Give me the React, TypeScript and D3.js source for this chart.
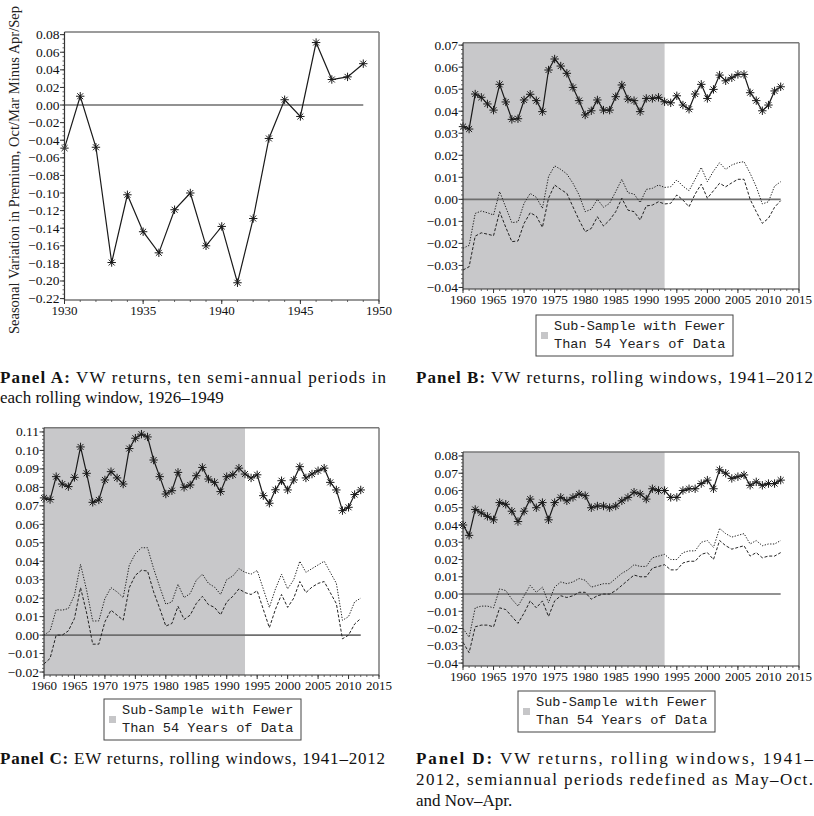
import React from "react";
import * as d3 from "d3";

const FONT = "'Liberation Serif', 'Times New Roman', serif";
const MONO = "'Liberation Mono', 'Courier New', monospace";

// ---------- Data ----------
const yearsA = [1930, 1931, 1932, 1933, 1934, 1935, 1936, 1937, 1938, 1939, 1940, 1941, 1942, 1943, 1944, 1945, 1946, 1947, 1948, 1949];
const premiumA = [-0.049, 0.010, -0.048, -0.179, -0.102, -0.144, -0.168, -0.119, -0.100, -0.160, -0.138, -0.202, -0.129, -0.038, 0.006, -0.013, 0.071, 0.029, 0.032, 0.047];

const yearsRolling = [
  1960, 1961, 1962, 1963, 1964, 1965, 1966, 1967, 1968, 1969,
  1970, 1971, 1972, 1973, 1974, 1975, 1976, 1977, 1978, 1979,
  1980, 1981, 1982, 1983, 1984, 1985, 1986, 1987, 1988, 1989,
  1990, 1991, 1992, 1993, 1994, 1995, 1996, 1997, 1998, 1999,
  2000, 2001, 2002, 2003, 2004, 2005, 2006, 2007, 2008, 2009,
  2010, 2011, 2012,
];

const vwEstimateB = [
  0.0330, 0.0319, 0.0478, 0.0463, 0.0433, 0.0405, 0.0522, 0.0442, 0.0363, 0.0366,
  0.0451, 0.0477, 0.0448, 0.0398, 0.0587, 0.0637, 0.0605, 0.0572, 0.0508, 0.0448,
  0.0383, 0.0402, 0.0451, 0.0405, 0.0405, 0.0466, 0.0519, 0.0455, 0.0448, 0.0398,
  0.0458, 0.0458, 0.0463, 0.0443, 0.0438, 0.0470, 0.0428, 0.0409, 0.0478, 0.0522,
  0.0458, 0.0499, 0.0564, 0.0538, 0.0552, 0.0567, 0.0567, 0.0484, 0.0448, 0.0402,
  0.0428, 0.0492, 0.0511,
];
const vwUpperB = [
  -0.0222, -0.0209, -0.0064, -0.0053, -0.0061, -0.0071, 0.0035, -0.0036, -0.0106, -0.0102,
  -0.0018, 0.0027, 0.0009, -0.0041, 0.0103, 0.0152, 0.0136, 0.0115, 0.0073, 0.0020,
  -0.0056, -0.0045, 0.0000, -0.0036, -0.0018, 0.0035, 0.0091, 0.0030, 0.0024, -0.0015,
  0.0045, 0.0050, 0.0065, 0.0054, 0.0057, 0.0088, 0.0060, 0.0039, 0.0091, 0.0145,
  0.0080, 0.0128, 0.0166, 0.0136, 0.0156, 0.0166, 0.0171, 0.0118, 0.0057, -0.0021,
  -0.0011, 0.0060, 0.0080,
];
const vwLowerB = [
  -0.0321, -0.0306, -0.0167, -0.0152, -0.0158, -0.0165, -0.0056, -0.0127, -0.0192, -0.0189,
  -0.0109, -0.0061, -0.0076, -0.0127, 0.0005, 0.0065, 0.0045, 0.0027, -0.0034, -0.0094,
  -0.0147, -0.0132, -0.0079, -0.0121, -0.0094, -0.0056, 0.0005, -0.0049, -0.0056, -0.0094,
  -0.0030, -0.0026, -0.0011, -0.0021, -0.0018, 0.0020, -0.0003, -0.0034, 0.0024, 0.0069,
  0.0005, 0.0039, 0.0073, 0.0057, 0.0075, 0.0091, 0.0091, 0.0000, -0.0056, -0.0109,
  -0.0086, -0.0036, -0.0006,
];

const ewEstimateC = [
  0.0743, 0.0734, 0.0858, 0.0818, 0.0804, 0.0854, 0.1019, 0.0876, 0.0719, 0.0732,
  0.0840, 0.0885, 0.0851, 0.0818, 0.1010, 0.1066, 0.1088, 0.1073, 0.0948, 0.0858,
  0.0764, 0.0782, 0.0881, 0.0800, 0.0813, 0.0863, 0.0908, 0.0845, 0.0827, 0.0777,
  0.0858, 0.0868, 0.0904, 0.0872, 0.0851, 0.0868, 0.0755, 0.0714, 0.0787, 0.0836,
  0.0786, 0.0840, 0.0912, 0.0851, 0.0872, 0.0890, 0.0904, 0.0827, 0.0786, 0.0674,
  0.0692, 0.0761, 0.0786,
];
const ewUpperC = [
  0.0000, 0.0023, 0.0138, 0.0135, 0.0144, 0.0216, 0.0383, 0.0243, 0.0076, 0.0077,
  0.0198, 0.0257, 0.0234, 0.0203, 0.0378, 0.0441, 0.0473, 0.0473, 0.0360, 0.0261,
  0.0167, 0.0180, 0.0275, 0.0203, 0.0225, 0.0297, 0.0330, 0.0280, 0.0260, 0.0220,
  0.0300, 0.0320, 0.0360, 0.0340, 0.0330, 0.0350, 0.0250, 0.0150, 0.0250, 0.0330,
  0.0250, 0.0300, 0.0400, 0.0340, 0.0360, 0.0380, 0.0400, 0.0340, 0.0280, 0.0080,
  0.0100, 0.0180, 0.0200,
];
const ewLowerC = [
  -0.0156, -0.0126, 0.0000, 0.0000, 0.0023, 0.0090, 0.0257, 0.0120, -0.0049, -0.0049,
  0.0072, 0.0135, 0.0108, 0.0081, 0.0257, 0.0324, 0.0351, 0.0347, 0.0234, 0.0144,
  0.0049, 0.0063, 0.0156, 0.0085, 0.0108, 0.0171, 0.0210, 0.0165, 0.0150, 0.0110,
  0.0180, 0.0210, 0.0250, 0.0230, 0.0220, 0.0240, 0.0140, 0.0040, 0.0140, 0.0220,
  0.0150, 0.0200, 0.0290, 0.0230, 0.0260, 0.0280, 0.0290, 0.0230, 0.0170, -0.0020,
  0.0000, 0.0060, 0.0090,
];

const vwEstimateD = [
  0.040, 0.034, 0.049, 0.047, 0.045, 0.043, 0.053, 0.052, 0.048, 0.042,
  0.048, 0.055, 0.050, 0.053, 0.043, 0.053, 0.056, 0.054, 0.056, 0.058,
  0.057, 0.050, 0.051, 0.051, 0.050, 0.051, 0.054, 0.056, 0.059, 0.058,
  0.055, 0.061, 0.060, 0.060, 0.056, 0.056, 0.060, 0.061, 0.061, 0.064,
  0.066, 0.061, 0.072, 0.070, 0.067, 0.068, 0.069, 0.063, 0.065, 0.063,
  0.064, 0.064, 0.066,
];
const vwUpperD = [
  -0.020, -0.025, -0.008, -0.007, -0.007, -0.008, 0.003, 0.002, -0.003, -0.007,
  -0.001, 0.005, 0.001, 0.004, -0.005, 0.004, 0.007, 0.006, 0.007, 0.009,
  0.008, 0.004, 0.005, 0.006, 0.006, 0.009, 0.012, 0.014, 0.017, 0.016,
  0.016, 0.021, 0.022, 0.023, 0.020, 0.020, 0.024, 0.025, 0.025, 0.030,
  0.031, 0.027, 0.038, 0.035, 0.033, 0.034, 0.035, 0.029, 0.031, 0.028,
  0.029, 0.029, 0.031,
];
const vwLowerD = [
  -0.028, -0.034, -0.019, -0.018, -0.018, -0.019, -0.008, -0.009, -0.013, -0.017,
  -0.011, -0.004, -0.008, -0.004, -0.013, -0.004, -0.001, -0.002, -0.001, 0.001,
  0.001, -0.003, -0.001, 0.000, 0.000, 0.002, 0.005, 0.008, 0.011, 0.010,
  0.010, 0.015, 0.016, 0.017, 0.014, 0.014, 0.018, 0.019, 0.019, 0.023,
  0.024, 0.020, 0.031, 0.028, 0.026, 0.027, 0.028, 0.022, 0.024, 0.021,
  0.022, 0.022, 0.024,
];

const xTicksA = [1930, 1935, 1940, 1945, 1950];
const xTicksRolling = [1960, 1965, 1970, 1975, 1980, 1985, 1990, 1995, 2000, 2005, 2010, 2015];
const yTicksA = [0.08, 0.06, 0.04, 0.02, 0, -0.02, -0.04, -0.06, -0.08, -0.10, -0.12, -0.14, -0.16, -0.18, -0.20, -0.22];
const yTicksB = [0.07, 0.06, 0.05, 0.04, 0.03, 0.02, 0.01, 0, -0.01, -0.02, -0.03, -0.04];
const yTicksC = [0.11, 0.10, 0.09, 0.08, 0.07, 0.06, 0.05, 0.04, 0.03, 0.02, 0.01, 0, -0.01, -0.02];
const yTicksD = [0.08, 0.07, 0.06, 0.05, 0.04, 0.03, 0.02, 0.01, 0, -0.01, -0.02, -0.03, -0.04];

const shadeEndYear = 1993;
const legendLines = ["Sub-Sample with Fewer", "Than 54 Years of Data"];
const yTitleA = "Seasonal Variation in Premium, Oct/Mar Minus Apr/Sep";

// ---------- Helpers ----------
const fmt = d3.format(".2f");
const label = (v: number) => fmt(Math.abs(v) < 1e-9 ? 0 : v).replace("-", "\u2212");

function starPath(r: number) {
  const a = r * 0.7071;
  return `M0,${-r}V${r}M${-r},0H${r}M${-a},${-a}L${a},${a}M${-a},${a}L${a},${-a}`;
}
const STAR = starPath(4.2);

type Box = { l: number; r: number; t: number; b: number };

function Panel(props: {
  box: Box;
  xDomain: [number, number];
  yDomain: [number, number];
  xTicks: number[];
  yTicks: number[];
  yMinor: number;
  years: number[];
  est: number[];
  upper?: number[];
  lower?: number[];
  shadeEnd?: number;
  zeroEnd: number;
}) {
  const { box, xDomain, yDomain, xTicks, yTicks, yMinor, years, est, upper, lower, shadeEnd, zeroEnd } = props;
  const x = d3.scaleLinear().domain(xDomain).range([box.l, box.r]);
  const y = d3.scaleLinear().domain(yDomain).range([box.b, box.t]);
  const lineGen = d3
    .line<number>()
    .x((_, i) => x(years[i]))
    .y((d) => y(d));
  const yMinorTicks = d3
    .range(Math.ceil(yDomain[0] / yMinor - 1e-6), Math.floor(yDomain[1] / yMinor + 1e-6) + 1)
    .map((i) => i * yMinor);
  const xMinorTicks = d3.range(Math.ceil(xDomain[0]), Math.floor(xDomain[1]) + 1);
  const ink = "#1a1a1a";
  return (
    <g>
      {shadeEnd !== undefined && (
        <rect x={box.l} y={box.t} width={x(shadeEnd) - box.l} height={box.b - box.t} fill="#c8c8ca" />
      )}
      <line x1={box.l} x2={box.r} y1={box.t} y2={box.t} stroke="#7a7a7a" strokeWidth={1.5} />
      <line x1={box.r} x2={box.r} y1={box.t} y2={box.b} stroke="#7a7a7a" strokeWidth={1.5} />
      <line x1={box.l} x2={x(zeroEnd)} y1={y(0)} y2={y(0)} stroke="#6e6e6e" strokeWidth={1.6} />
      {upper && (
        <path d={lineGen(upper) || ""} fill="none" stroke="#222" strokeWidth={1} strokeDasharray="1.3,1.5" />
      )}
      {lower && (
        <path d={lineGen(lower) || ""} fill="none" stroke="#222" strokeWidth={1} strokeDasharray="3,1.8" />
      )}
      <path d={lineGen(est) || ""} fill="none" stroke={ink} strokeWidth={1.2} />
      {est.map((v, i) => (
        <path
          key={i}
          d={STAR}
          transform={`translate(${x(years[i])},${y(v)})`}
          stroke={ink}
          strokeWidth={1}
          fill="none"
        />
      ))}
      {/* left axis */}
      <line x1={box.l} x2={box.l} y1={box.t} y2={box.b} stroke="#333" strokeWidth={1.2} />
      {yMinorTicks.map((v, i) => (
        <line key={"ym" + i} x1={box.l - 2} x2={box.l} y1={y(v)} y2={y(v)} stroke="#444" strokeWidth={0.8} />
      ))}
      {yTicks.map((v, i) => (
        <g key={"yt" + i}>
          <line x1={box.l - 4.5} x2={box.l} y1={y(v)} y2={y(v)} stroke="#333" strokeWidth={1} />
          <text
            x={box.l - 5}
            y={y(v)}
            textAnchor="end"
            dominantBaseline="central"
            fontFamily={FONT}
            fontSize={13.5}
            fill="#111"
          >
            {label(v)}
          </text>
        </g>
      ))}
      {/* bottom axis */}
      <line x1={box.l} x2={box.r} y1={box.b} y2={box.b} stroke="#333" strokeWidth={1.2} />
      {xMinorTicks.map((v, i) => (
        <line key={"xm" + i} x1={x(v)} x2={x(v)} y1={box.b} y2={box.b + 2} stroke="#444" strokeWidth={0.8} />
      ))}
      {xTicks.map((v, i) => (
        <g key={"xt" + i}>
          <line x1={x(v)} x2={x(v)} y1={box.b} y2={box.b + 4} stroke="#333" strokeWidth={1} />
          <text x={x(v)} y={box.b + 15} textAnchor="middle" fontFamily={FONT} fontSize={13} fill="#111">
            {v}
          </text>
        </g>
      ))}
    </g>
  );
}

function Legend({ x, y }: { x: number; y: number }) {
  return (
    <g>
      <rect x={x} y={y} width={197} height={41} fill="#fff" stroke="#444" strokeWidth={1} />
      <rect x={x + 5} y={y + 17} width={7} height={7} fill="#c6c6c8" />
      {legendLines.map((t, i) => (
        <text key={i} x={x + 18} y={y + 15 + i * 17.5} fontFamily={MONO} fontSize={13.6} fill="#222">
          {t}
        </text>
      ))}
    </g>
  );
}

function Caption({
  x,
  y,
  bold,
  rest,
  width,
}: {
  x: number;
  y: number;
  bold?: string;
  rest: string;
  width?: number;
}) {
  return (
    <text
      x={x}
      y={y}
      fontFamily={FONT}
      fontSize={17}
      fill="#111"
      textLength={width}
      lengthAdjust={width ? "spacing" : undefined}
    >
      {bold && <tspan fontWeight="bold">{bold}</tspan>}
      {rest}
    </text>
  );
}

export default function App() {
  return (
    <svg
      width={814}
      height={816}
      viewBox="0 0 814 816"
      style={{ position: "absolute", left: 0, top: 0, background: "#fff" }}
    >
      <rect x={0} y={0} width={814} height={816} fill="#fff" />

      {/* Panel A */}
      <text
        transform="translate(14,170) rotate(-90)"
        textAnchor="middle"
        dominantBaseline="central"
        fontFamily={FONT}
        fontSize={14.5}
        fill="#222"
      >
        {yTitleA}
      </text>
      <Panel
        box={{ l: 64.5, r: 379, t: 32, b: 300 }}
        xDomain={[1930, 1950]}
        yDomain={[-0.2216, 0.083]}
        xTicks={xTicksA}
        yTicks={yTicksA}
        yMinor={0.005}
        years={yearsA}
        est={premiumA}
        zeroEnd={1949}
      />

      {/* Panel B */}
      <Panel
        box={{ l: 463, r: 799, t: 42.7, b: 289 }}
        xDomain={[1960, 2015]}
        yDomain={[-0.0407, 0.0711]}
        xTicks={xTicksRolling}
        yTicks={yTicksB}
        yMinor={0.002}
        years={yearsRolling}
        est={vwEstimateB}
        upper={vwUpperB}
        lower={vwLowerB}
        shadeEnd={shadeEndYear}
        zeroEnd={2012}
      />
      <Legend x={536} y={315} />

      {/* Panel C */}
      <Panel
        box={{ l: 44, r: 379, t: 427.7, b: 675 }}
        xDomain={[1960, 2015]}
        yDomain={[-0.0216, 0.1123]}
        xTicks={xTicksRolling}
        yTicks={yTicksC}
        yMinor={0.002}
        years={yearsRolling}
        est={ewEstimateC}
        upper={ewUpperC}
        lower={ewLowerC}
        shadeEnd={shadeEndYear}
        zeroEnd={2012}
      />
      <Legend x={104} y={699} />

      {/* Panel D */}
      <Panel
        box={{ l: 463, r: 799, t: 452, b: 666 }}
        xDomain={[1960, 2015]}
        yDomain={[-0.0417, 0.0823]}
        xTicks={xTicksRolling}
        yTicks={yTicksD}
        yMinor={0.002}
        years={yearsRolling}
        est={vwEstimateD}
        upper={vwUpperD}
        lower={vwLowerD}
        shadeEnd={shadeEndYear}
        zeroEnd={2012}
      />
      <Legend x={518} y={691} />

      {/* Captions */}
      <Caption x={0} y={383} bold="Panel A:" rest=" VW returns, ten semi-annual periods in" width={386} />
      <Caption x={0} y={403} rest="each rolling window, 1926–1949" />
      <Caption x={416} y={383} bold="Panel B:" rest=" VW returns, rolling windows, 1941–2012" width={397} />
      <Caption x={0} y={764} bold="Panel C:" rest=" EW returns, rolling windows, 1941–2012" width={385} />
      <Caption x={416} y={764} bold="Panel D:" rest=" VW returns, rolling windows, 1941–" width={397} />
      <Caption x={416} y={785} rest="2012, semiannual periods redefined as May–Oct." width={397} />
      <Caption x={416} y={806} rest="and Nov–Apr." />
    </svg>
  );
}
